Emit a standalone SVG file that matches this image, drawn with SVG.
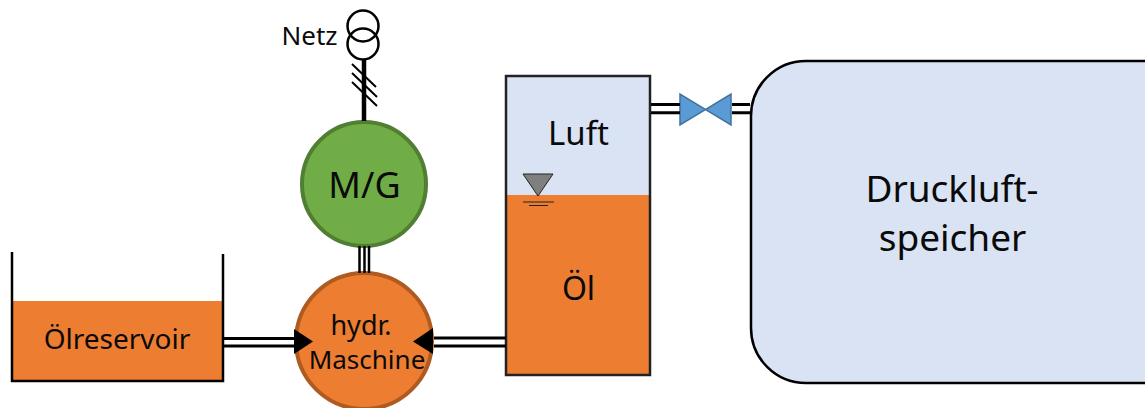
<svg xmlns="http://www.w3.org/2000/svg" width="1145" height="408" viewBox="0 0 1145 408">
<style>
text{font-family:"Noto Sans","Open Sans","DejaVu Sans",sans-serif;fill:#0a0a0a;text-anchor:middle}
.t{fill:none;stroke:#000;stroke-width:2.500}
.p{fill:none;stroke:#000;stroke-width:3}
.s{fill:none;stroke:#000;stroke-width:2}
.a{fill:#000;stroke:none}
</style>
<rect width="1145" height="408" fill="#fff"/>
<g id="netz">
<circle class="t" cx="363" cy="26" r="15.500"/>
<circle class="t" cx="363" cy="44" r="15.500"/>
<text x="309.500" y="45" font-size="26">Netz</text>
</g>
<g id="motor">
<circle cx="364" cy="184" r="62" fill="#70ad47" stroke="#507e32" stroke-width="4"/>
<text x="364.500" y="198" font-size="36">M/G</text>
</g>
<g id="maschine">
<circle cx="364" cy="341" r="68" fill="#ed7d31" stroke="#ae5a21" stroke-width="4"/>
<text x="361" y="335" font-size="27">hydr.</text>
<text x="367" y="369" font-size="26">Maschine</text>
</g>
<g id="reservoir">
<rect x="13" y="301" width="210" height="80" fill="#ed7d31"/>
<path class="t" d="M12 252V381H223V254"/>
<text x="117" y="349" font-size="28">Ölreservoir</text>
</g>
<g id="tank">
<rect x="506" y="76" width="144" height="120" fill="#dae3f3"/>
<rect x="506" y="195" width="144" height="180" fill="#ed7d31"/>
<rect x="506" y="76" width="144" height="299" fill="none" stroke="#222" stroke-width="2.500"/>
<text x="578.500" y="145" font-size="33">Luft</text>
<text x="578.500" y="300" font-size="32">Öl</text>
<path d="M523 174H553L538 196Z" fill="#7f7f7f" stroke="#222" stroke-width="1"/>
<path d="M523 202H554M529 205.500H548" stroke="#222" stroke-width="1" fill="none"/>
</g>
<g id="ventil">
<path d="M680 94V125L731 94V125Z" fill="#5b9bd5" stroke="#41719c" stroke-width="1.500"/>
</g>
<g id="speicher">
<rect x="751" y="61" width="450" height="322" rx="55" fill="#dae3f3" stroke="#000" stroke-width="2.500"/>
<text x="952" y="202" font-size="37">Druckluft-</text>
<text x="952.500" y="251" font-size="37">speicher</text>
</g>
<g id="connectors">
<path class="p" d="M224 338.500H296M224 346H296" stroke-width="2.500"/>
<path class="p" d="M434 338H506M434 346H506"/>
<path class="t" d="M359.500 246V273M364.500 246V273M369 246V273"/>
<path d="M364 60V121" fill="none" stroke="#000" stroke-width="4.500"/>
<path class="s" d="M352 64L376 87M352 73L377 97M352 82L377 106"/>
<path class="p" d="M651 104.500H680M651 112.700H680M732 104.500H750M732 112.700H750"/>
<path class="a" d="M294 329V354L313 341.500Z"/>
<path class="a" d="M433 328V354L413 341.500Z"/>
</g>
</svg>
